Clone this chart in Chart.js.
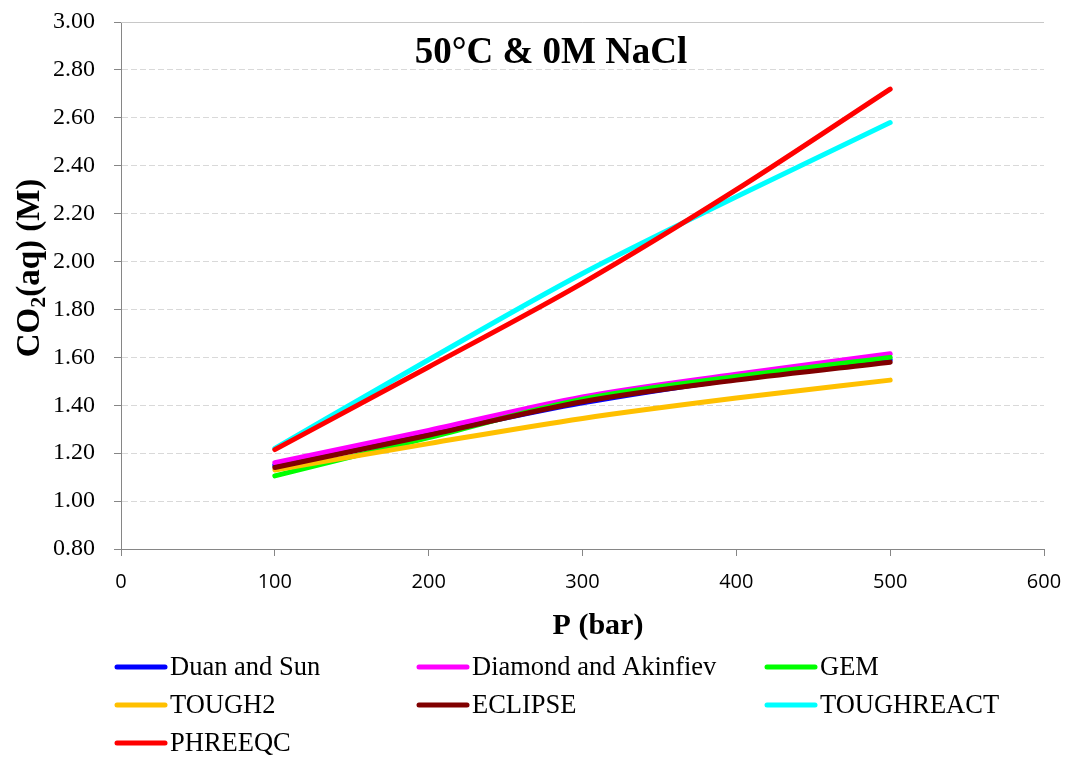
<!DOCTYPE html>
<html>
<head>
<meta charset="utf-8">
<script src="https://cdn.jsdelivr.net/npm/chart.js@4.4.0/dist/chart.umd.min.js"></script>
<style>
  html, body { margin: 0; padding: 0; background: #fff; }
  #wrap { position: relative; width: 1074px; height: 758px; }
</style>
</head>
<body>
<div id="wrap"><canvas id="Chart1" width="1074" height="758"></canvas></div>
<script>
// data
const pressures = [100, 200, 300, 400, 500];
const duanSun = [1.15, 1.28, 1.41, 1.51, 1.59];
const diamondAkinfiev = [1.16, 1.295, 1.435, 1.53, 1.615];
const gem = [1.105, 1.265, 1.425, 1.52, 1.60];
const tough2 = [1.13, 1.24, 1.345, 1.43, 1.505];
const eclipse = [1.14, 1.275, 1.415, 1.505, 1.58];
const toughreact = [1.22, 1.59, 1.95, 2.27, 2.58];
const phreeqc = [1.215, 1.56, 1.91, 2.30, 2.72];

const seriesNames = ['Duan and Sun', 'Diamond and Akinfiev', 'GEM', 'TOUGH2', 'ECLIPSE', 'TOUGHREACT', 'PHREEQC'];
const seriesValues = [duanSun, diamondAkinfiev, gem, tough2, eclipse, toughreact, phreeqc];
const seriesColors = ['#0000FF', '#FF00FF', '#00FF00', '#FFC000', '#800000', '#00FFFF', '#FF0000'];

const chartTitle = '50°C & 0M NaCl';
const xTitle = 'P (bar)';

const axisGrey = '#868686';
const serif = '"Liberation Serif", "Times New Roman", serif';

// build datasets, later series drawn on top (like Excel)
const datasets = seriesNames.map((name, i) => ({
    label: name,
    data: pressures.map((p, j) => ({ x: p, y: seriesValues[i][j] })),
    borderColor: seriesColors[i],
    backgroundColor: seriesColors[i],
    borderWidth: 5,
    borderCapStyle: 'round',
    borderJoinStyle: 'round',
    cubicInterpolationMode: 'monotone',
    pointRadius: 0,
    fill: false,
    order: seriesNames.length - i
}));

// titles, top border line and a column legend drawn on the canvas
const extrasPlugin = {
    id: 'extras',
    afterDraw(chart) {
        const c = chart.ctx;
        const area = chart.chartArea;
        c.save();
        // solid top line at 3.00
        c.strokeStyle = '#c8c8c8';
        c.lineWidth = 1;
        c.beginPath();
        c.moveTo(area.left, area.top + 0.5);
        c.lineTo(area.right, area.top + 0.5);
        c.stroke();

        // chart title
        c.fillStyle = '#000';
        c.font = 'bold 37px ' + serif;
        c.textAlign = 'center';
        c.textBaseline = 'middle';
        c.fillText(chartTitle, 551, 53);

        // x axis title
        c.font = 'bold 30px ' + serif;
        c.fillText(xTitle, 598, 626);

        // y axis title with subscript 2
        c.translate(30, 268);
        c.rotate(-Math.PI / 2);
        const big = 'bold 33px ' + serif;
        const small = 'bold 22px ' + serif;
        c.font = big;
        const wCO = c.measureText('CO').width;
        const wRest = c.measureText('(aq) (M)').width;
        c.font = small;
        const w2 = c.measureText('2').width;
        let x = -(wCO + w2 + wRest) / 2;
        c.textAlign = 'left';
        c.font = big;
        c.fillText('CO', x, 0);
        x += wCO;
        c.font = small;
        c.fillText('2', x, 9);
        x += w2;
        c.font = big;
        c.fillText('(aq) (M)', x, 0);
        c.restore();

        // legend in three columns
        c.save();
        const colX = [115, 417, 765];
        const rowY = [667, 705, 743];
        c.font = '26.5px ' + serif;
        c.textBaseline = 'middle';
        c.textAlign = 'left';
        chart.data.datasets.forEach((ds, i) => {
            const lx = colX[i % 3];
            const ly = rowY[Math.floor(i / 3)];
            c.strokeStyle = ds.borderColor;
            c.lineWidth = 5;
            c.lineCap = 'round';
            c.beginPath();
            c.moveTo(lx + 2, ly);
            c.lineTo(lx + 50, ly);
            c.stroke();
            c.fillStyle = '#000';
            c.fillText(ds.label, lx + 55, ly + 1);
        });
        c.restore();
    }
};

const ctx = document.getElementById('Chart1').getContext('2d');
const Chart1 = new Chart(ctx, {
    type: 'line',
    data: { datasets: datasets },
    options: {
        responsive: false,
        animation: false,
        layout: {
            padding: { left: 0, top: 22, right: 30, bottom: 109 }
        },
        plugins: {
            legend: { display: false },
            tooltip: { enabled: false },
            title: { display: false }
        },
        scales: {
            x: {
                type: 'linear',
                min: 0,
                max: 600,
                ticks: {
                    stepSize: 100,
                    color: '#000',
                    padding: 14,
                    font: { family: '"Open Sans", "Liberation Sans", sans-serif', size: 20 }
                },
                grid: {
                    drawOnChartArea: false,
                    drawTicks: true,
                    tickLength: 7,
                    tickColor: axisGrey
                },
                border: { color: axisGrey, width: 1 },
                afterFit: (axis) => {
                    axis.height = 100;
                    axis.paddingLeft = 0;
                    axis.paddingRight = 0;
                }
            },
            y: {
                min: 0.8,
                max: 3.0,
                ticks: {
                    stepSize: 0.2,
                    color: '#000',
                    padding: 19,
                    font: { family: serif, size: 24 },
                    callback: (v) => v.toFixed(2)
                },
                grid: {
                    color: '#d9d9d9',
                    lineWidth: 1,
                    tickLength: 7,
                    tickColor: axisGrey
                },
                border: { color: axisGrey, width: 1, dash: [6, 3] },
                afterFit: (axis) => {
                    axis.width = 121;
                    axis.paddingTop = 0;
                    axis.paddingBottom = 0;
                }
            }
        }
    },
    plugins: [extrasPlugin]
});
</script>
</body>
</html>
